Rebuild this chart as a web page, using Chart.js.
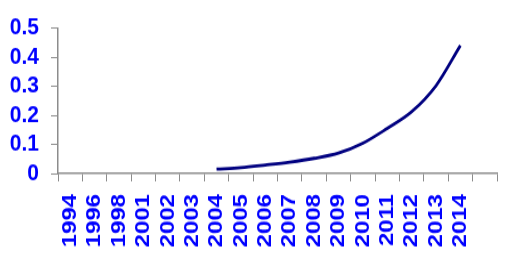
<!DOCTYPE html>
<html>
<head>
<meta charset="utf-8">
<script src="https://cdn.jsdelivr.net/npm/chart.js@4"></script>
<style>
  html, body { margin: 0; padding: 0; background: #fff; width: 515px; height: 267px; }
  #wrap { width: 515px; height: 234px; transform: scale(1, 1.141); transform-origin: 0 0; }
</style>
</head>
<body>
<div id="wrap"><canvas id="chart"></canvas></div>
<script>
// categories (last slot is empty in the original)
const years = ["1994", "1996", "1998", "2001", "2002", "2003", "2004", "2005", "2006",
  "2007", "2008", "2009", "2010", "2011", "2012", "2013", "2014", ""];

// series starts in 2004
const values = [null, null, null, null, null, null,
  0.015, 0.020, 0.029, 0.039, 0.052, 0.070, 0.104, 0.155, 0.212, 0.302, 0.44, null];

const yTicks = [0, 0.1, 0.2, 0.3, 0.4, 0.5];

const tickFont = { family: "'Liberation Sans', Arial, sans-serif", size: 21, weight: "bold" };
const axisGray = "#8c8c8c";

new Chart(document.getElementById("chart"), {
  type: "line",
  data: {
    labels: years,
    datasets: [
      {
        data: values,
        borderColor: "#000080",
        borderWidth: 2.8,
        pointRadius: 0,
        cubicInterpolationMode: "monotone",
        spanGaps: false,
      },
    ],
  },
  options: {
    responsive: true,
    maintainAspectRatio: false,
    animation: false,
    events: [],
    layout: {
      padding: { top: 16.5, right: 18, left: 0, bottom: 0 },
    },
    plugins: {
      legend: { display: false },
      tooltip: { enabled: false },
    },
    scales: {
      x: {
        type: "category",
        offset: true,
        grid: {
          offset: true,
          drawOnChartArea: false,
          drawTicks: true,
          tickLength: 7,
          color: axisGray,
        },
        border: { color: axisGray, width: 1.5 },
        ticks: {
          color: "#0000ff",
          font: tickFont,
          minRotation: 90,
          maxRotation: 90,
          autoSkip: false,
          padding: 11,
        },
        afterFit: (scale) => {
          scale.height = 82;
          scale.paddingLeft = 0;
          scale.paddingRight = 0;
        },
      },
      y: {
        min: 0,
        max: 0.5,
        afterBuildTicks: (scale) => {
          scale.ticks = yTicks.map((v) => ({ value: v }));
        },
        grid: {
          drawOnChartArea: false,
          drawTicks: true,
          tickLength: 7,
          color: axisGray,
        },
        border: { color: axisGray, width: 1.5 },
        ticks: {
          color: "#0000ff",
          font: tickFont,
          padding: 12,
          autoSkip: false,
          callback: (v) => String(Math.round(v * 10) / 10),
        },
        afterFit: (scale) => {
          scale.width = 58;
        },
      },
    },
  },
});
</script>
</body>
</html>
